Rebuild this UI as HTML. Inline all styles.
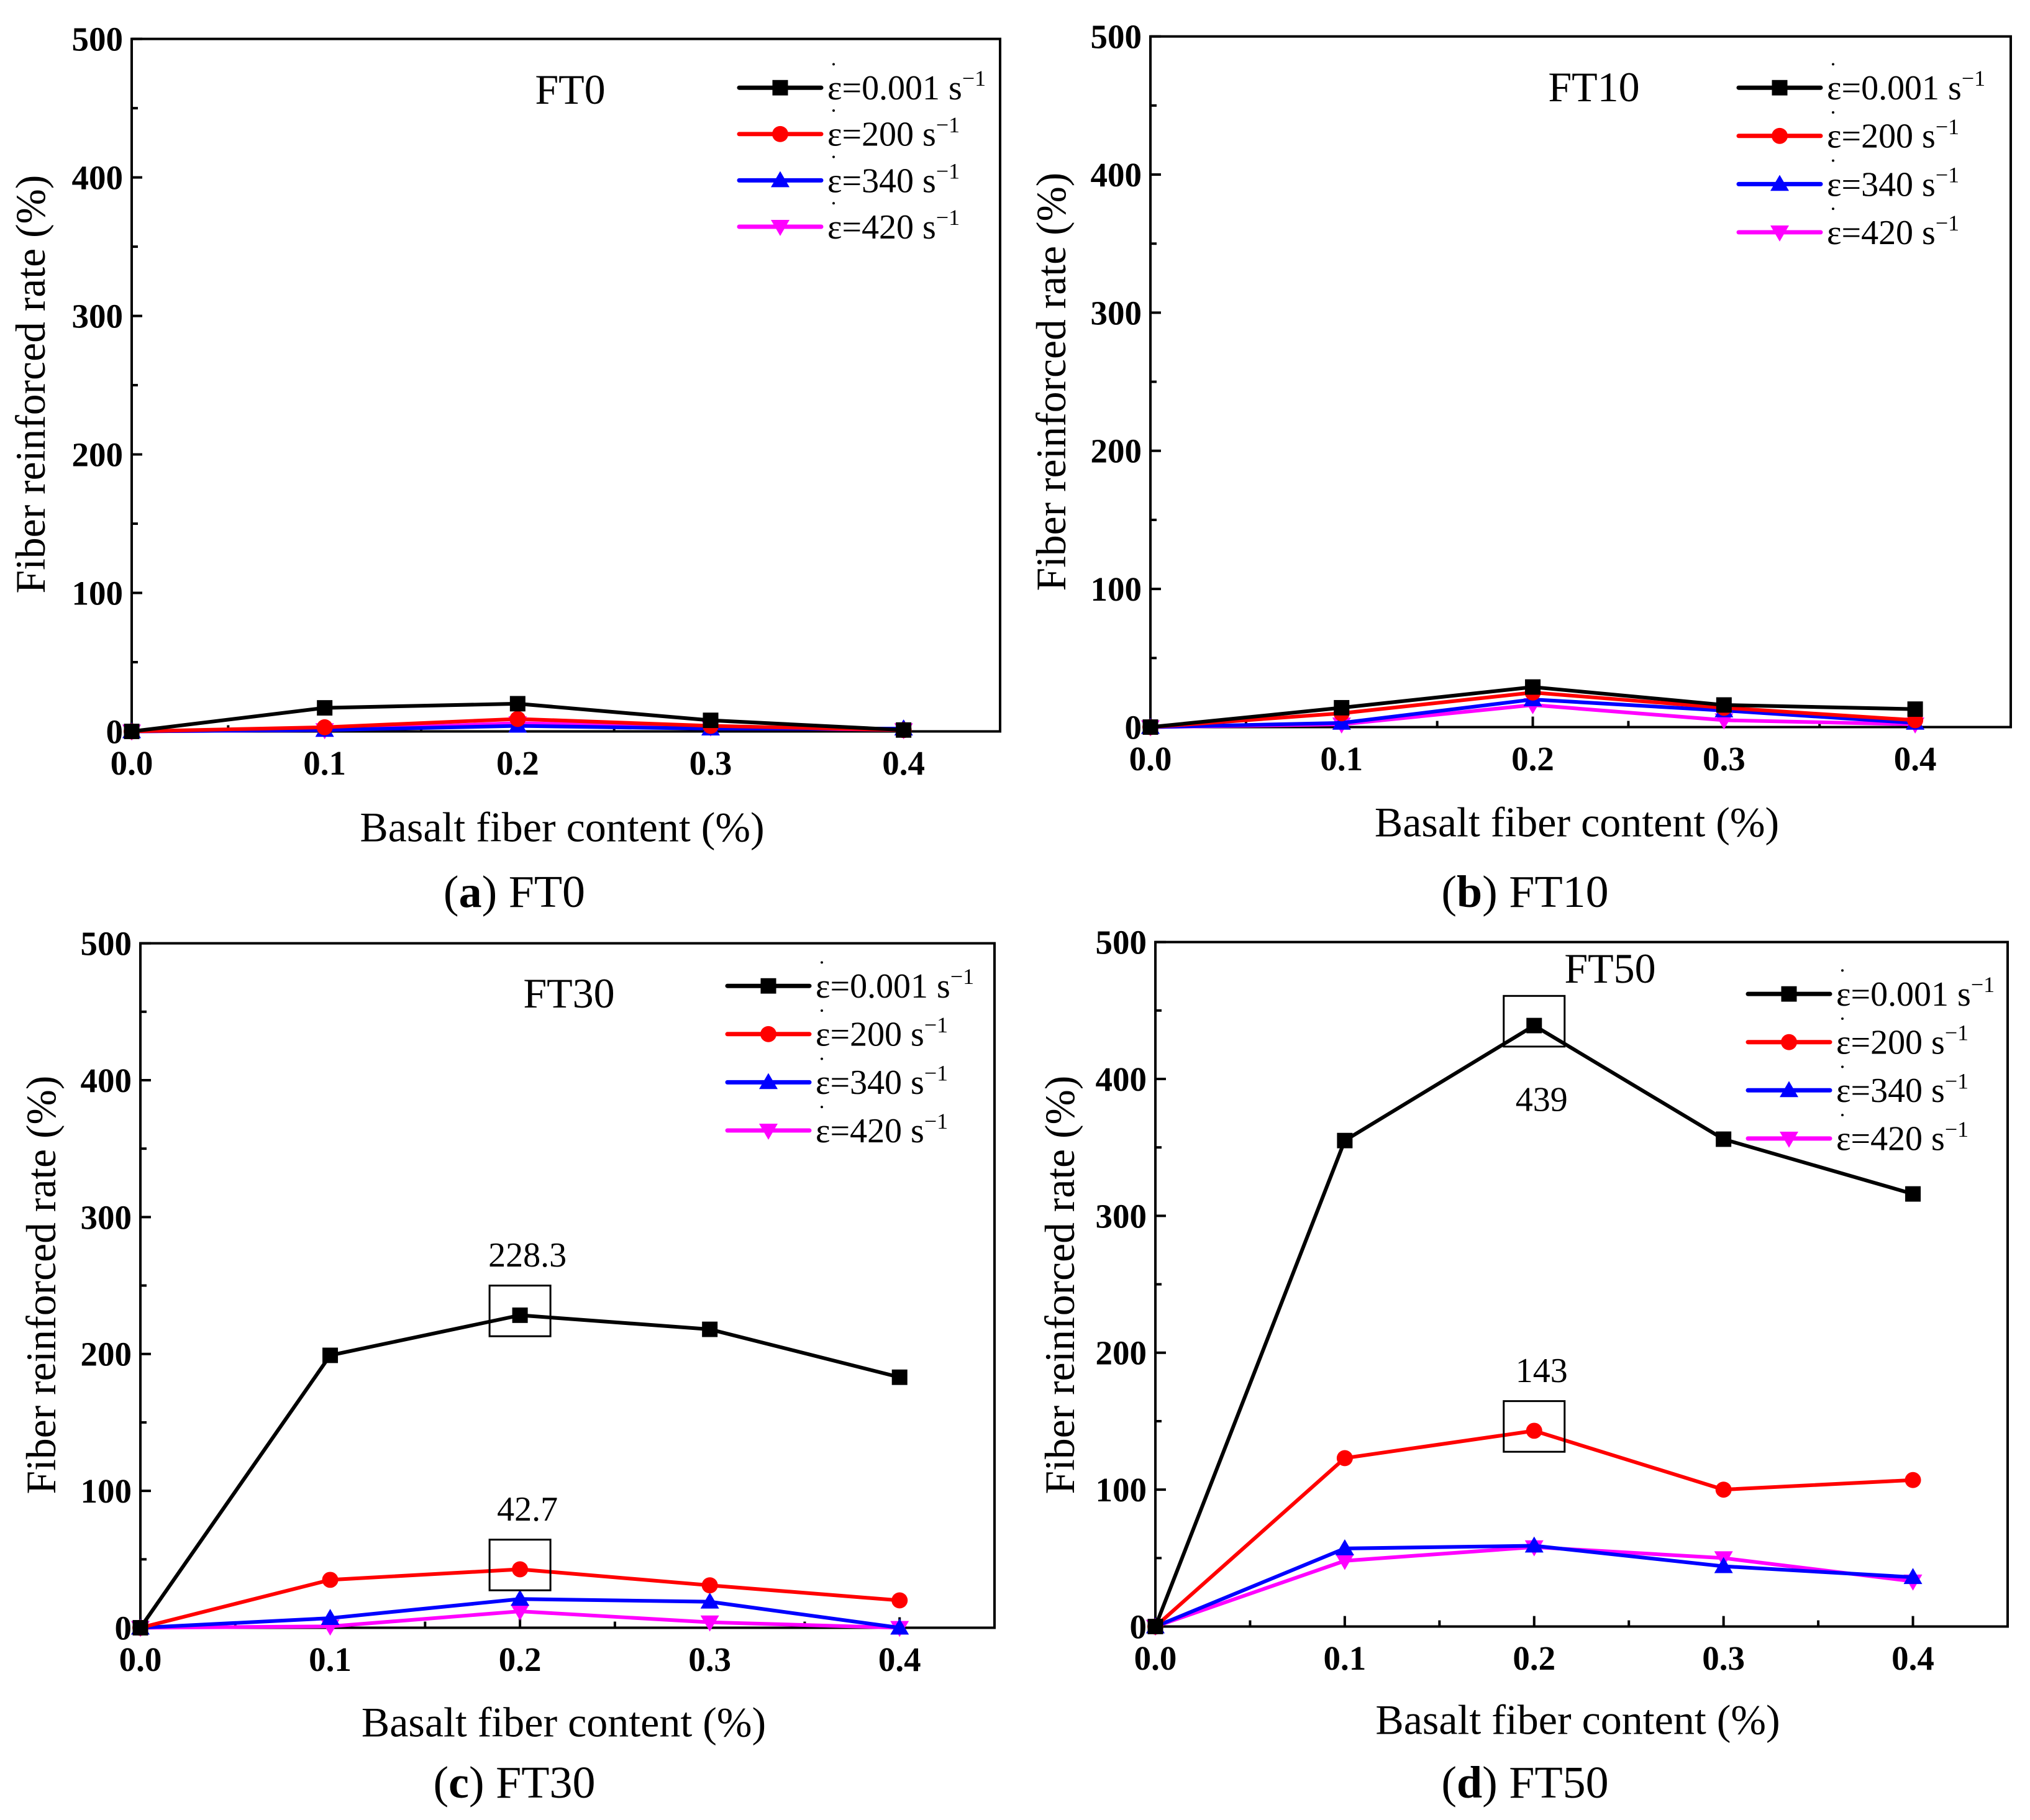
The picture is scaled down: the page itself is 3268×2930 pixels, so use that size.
<!DOCTYPE html>
<html><head><meta charset="utf-8"><style>
html,body{margin:0;padding:0;background:#fff;}
svg{display:block;font-family:"Liberation Serif",serif;}
</style></head><body>
<svg id="fig" width="3268" height="2930" viewBox="0 0 3268 2930" xmlns="http://www.w3.org/2000/svg"><g id="root" transform="scale(1,0.9945)"></g></svg>
<script>
const xCats = [0, 0.1, 0.2, 0.3, 0.4];
const yTicks = [0, 100, 200, 300, 400, 500];
const xTickLabels = ["0.0", "0.1", "0.2", "0.3", "0.4"];
const seriesNames = ["ε=0.001 s", "ε=200 s", "ε=340 s", "ε=420 s"];
const seriesColors = ["#000000", "#ff0000", "#0000ff", "#ff00ff"];
const ft0Black = [0, 17, 20, 8, 1];
const ft0Red = [0, 3, 9, 4, 1];
const ft0Blue = [0, 1, 4, 2, 2];
const ft0Magenta = [0, 1, 6, 3, 1];
const ft10Black = [0, 14, 29, 16, 13];
const ft10Red = [0, 10, 25, 14, 5];
const ft10Blue = [0, 3, 20, 12, 3];
const ft10Magenta = [0, 2, 16, 5, 2];
const ft30Black = [0, 199, 228.3, 218, 183];
const ft30Red = [0, 35, 42.7, 31, 20];
const ft30Blue = [0, 7, 21, 19, 0];
const ft30Magenta = [0, 1, 12, 4, 0];
const ft50Black = [0, 355, 439, 356, 316];
const ft50Red = [0, 123, 143, 100, 107];
const ft50Blue = [0, 57, 59, 44, 36];
const ft50Magenta = [0, 48, 58, 50, 33];
const ft30Notes = [["228.3", 2, 228.3], ["42.7", 2, 42.7]];
const ft50Notes = [["439", 2, 439], ["143", 2, 143]];

const svg = document.getElementById('root');


const NS = 'http://www.w3.org/2000/svg';
function mk(tag, attrs, parent, text) {
  const e = document.createElementNS(NS, tag);
  for (const k in attrs) e.setAttribute(k, attrs[k]);
  if (text !== undefined) e.textContent = text;
  (parent || svg).appendChild(e);
  return e;
}

const panels = [
  {id:'a', title:'FT0', L:212, R:1610, T:63, B:1184, series:[ft0Black, ft0Red, ft0Blue, ft0Magenta],
   tX:918, tY:168, legX:1190, legY:142, legDy:75, xtY:1362, ytX:50, ytY:622, capX:828, capY:1468, notes:[], noteBelow:false},
  {id:'b', title:'FT10', L:1852, R:3237, T:59, B:1177, series:[ft10Black, ft10Red, ft10Blue, ft10Magenta],
   tX:2566, tY:164, legX:2799, legY:142, legDy:78, xtY:1354, ytX:1693, ytY:618, capX:2455, capY:1468, notes:[], noteBelow:false},
  {id:'c', title:'FT30', L:226, R:1601, T:1527, B:2635, series:[ft30Black, ft30Red, ft30Blue, ft30Magenta],
   tX:916, tY:1631, legX:1171, legY:1596, legDy:78, xtY:2811, ytX:67, ytY:2080, capX:828, capY:2910, notes:ft30Notes, noteBelow:false},
  {id:'d', title:'FT50', L:1860, R:3232, T:1525, B:2633, series:[ft50Black, ft50Red, ft50Blue, ft50Magenta],
   tX:2592, tY:1591, legX:2814, legY:1609, legDy:78, xtY:2807, ytX:1707, ytY:2080, capX:2455, capY:2910, notes:ft50Notes, noteBelow:true}
];

function marker(g, k, x, y, color) {
  let m;
  if (k === 0) m = mk('rect', {x:x-12.5, y:y-12.5, width:25, height:25, fill:color}, g);
  else if (k === 1) m = mk('circle', {cx:x, cy:y, r:13, fill:color}, g);
  else if (k === 2) m = mk('polygon', {points:`${x},${y-15} ${x-15},${y+11} ${x+15},${y+11}`, fill:color}, g);
  else m = mk('polygon', {points:`${x},${y+15} ${x-15},${y-11} ${x+15},${y-11}`, fill:color}, g);
  
  
  return m;
}

panels.forEach(p => {
  const g = mk('g', {});
  
  
  const xs = v => p.L + (v / 0.45) * (p.R - p.L);
  const ys = v => p.B - (v / 500) * (p.B - p.T);
  const fr = mk('rect', {x:p.L, y:p.T, width:p.R-p.L, height:p.B-p.T, fill:'none', stroke:'#000', 'stroke-width':4}, g);
  
  
  for (let v = 0; v <= 500; v += 50) {
    const major = v % 100 === 0;
    mk('line', {x1:p.L, x2:p.L + (major ? 17 : 10), y1:ys(v), y2:ys(v), stroke:'#000', 'stroke-width':4}, g);
  }
  yTicks.forEach(v => {
    const t = mk('text', {x:p.L - 14, y:ys(v) + 19, 'text-anchor':'end', 'font-size':55, 'font-weight':'bold'}, g, String(v));
    
    
  });
  for (let i = 0; i <= 8; i++) {
    const v = i * 0.05, major = i % 2 === 0;
    mk('line', {x1:xs(v), x2:xs(v), y1:p.B, y2:p.B - (major ? 17 : 10), stroke:'#000', 'stroke-width':4}, g);
  }
  xCats.forEach((v, i) => {
    const t = mk('text', {x:xs(v), y:p.B + 70, 'text-anchor':'middle', 'font-size':55, 'font-weight':'bold'}, g, xTickLabels[i]);
    
    
  });
  const xt = mk('text', {x:(p.L + p.R) / 2 - 6, y:p.xtY, 'text-anchor':'middle', 'font-size':68}, g, 'Basalt fiber content (%)');
  
  
  const yt = mk('text', {x:0, y:0, 'text-anchor':'middle', 'font-size':68, transform:`translate(${p.ytX + 22},${p.ytY}) rotate(-90)`}, g, 'Fiber reinforced rate (%)');
  
  
  const pt = mk('text', {x:p.tX, y:p.tY, 'text-anchor':'middle', 'font-size':68}, g, p.title);
  
  
  [3, 2, 1, 0].forEach(k => {
    const vals = p.series[k];
    const pts = vals.map((v, i) => `${xs(xCats[i])},${ys(v)}`).join(' ');
    const pl = mk('polyline', {points:pts, fill:'none', stroke:seriesColors[k], 'stroke-width':6, 'stroke-linejoin':'round'}, g);
    
    
    vals.forEach((v, i) => marker(g, k, xs(xCats[i]), ys(v), seriesColors[k]));
  });
  p.notes.forEach((n, j) => {
    const cx = xs(xCats[n[1]]), cy = ys(n[2]);
    const bx = mk('rect', {x:cx - 49, y:cy - 48, width:98, height:82, fill:'none', stroke:'#000', 'stroke-width':3}, g);
    
    
    const below = p.noteBelow && j === 0;
    const ty = below ? cy + 138 : cy - 79;
    const tx = mk('text', {x:cx + 12, y:ty, 'text-anchor':'middle', 'font-size':56}, g, n[0]);
    
    
  });
  seriesNames.forEach((nm, k) => {
    const y = p.legY + k * p.legDy;
    const lg = mk('g', {}, g);
    
    
    mk('line', {x1:p.legX, x2:p.legX + 132, y1:y, y2:y, stroke:seriesColors[k], 'stroke-width':7, 'stroke-linecap':'round'}, lg);
    marker(lg, k, p.legX + 66, y, seriesColors[k]);
    mk('circle', {cx:p.legX + 152, cy:y - 38, r:2, fill:'#000'}, lg);
    const t = mk('text', {x:p.legX + 142, y:y + 19, 'font-size':56}, lg, nm);
    mk('tspan', {'font-size':36, dy:-22}, t, '−1');
  });
  const cap = mk('text', {x:p.capX, y:p.capY, 'text-anchor':'middle', 'font-size':74}, g);
  
  
  mk('tspan', {}, cap, '(');
  mk('tspan', {'font-weight':'bold'}, cap, p.id);
  mk('tspan', {}, cap, ') ' + p.title);
});
</script>
</body></html>
